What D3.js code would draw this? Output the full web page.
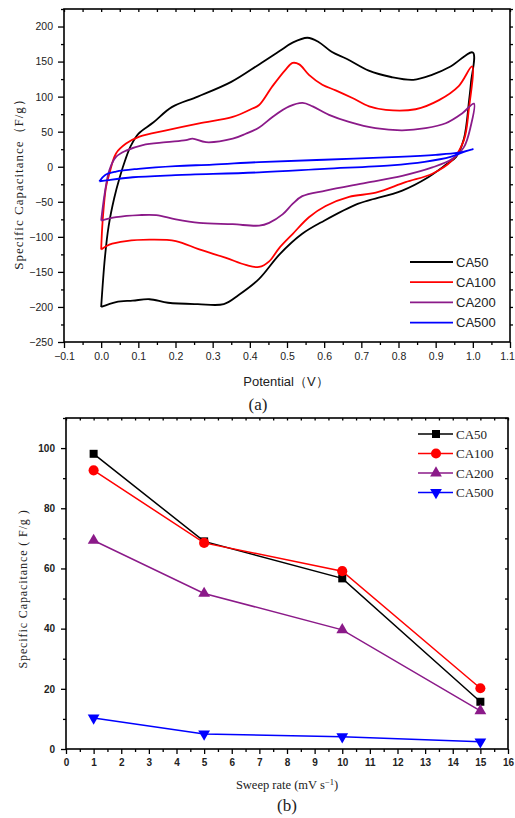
<!DOCTYPE html>
<html>
<head>
<meta charset="utf-8">
<script src="https://cdn.jsdelivr.net/npm/d3@7"></script>
<style>
  body { margin: 0; background: #fff; }
  svg text { fill: #222; }
</style>
</head>
<body>
<svg id="fig" width="515" height="818"></svg>
<script>
// ---- data: (a) CV loops, [potential V, capacitance F/g]
const seriesNames = ['CA50', 'CA100', 'CA200', 'CA500'];
const seriesColors = ['#000000', '#ff0000', '#8b1a89', '#0000ff'];

const ca50Loop = [[0.0,-200],[0.01,-130],[0.02,-85],[0.035,-45],[0.05,-15],[0.065,10],[0.08,30],[0.1,47],
  [0.14,63],[0.19,85],[0.26,100],[0.35,121],[0.425,146],[0.48,165],[0.515,177],[0.555,184],[0.585,178],
  [0.62,164],[0.66,154],[0.72,137],[0.78,128],[0.84,124],[0.89,131],[0.94,143],[1.0,163],
  [0.995,120],[0.99,95],[0.976,40],[0.955,14],[0.93,4],[0.88,-15],[0.81,-34],[0.72,-48],[0.69,-53],
  [0.6,-77],[0.54,-96],[0.48,-125],[0.425,-160],[0.37,-183],[0.33,-196],[0.26,-196],[0.18,-194],
  [0.13,-189],[0.085,-191],[0.04,-193],[0.0,-200]];

const ca100Loop = [[0.0,-118],[0.004,-77],[0.013,-29],[0.022,-10],[0.04,19],[0.067,33],[0.103,43],
  [0.175,52],[0.264,62],[0.354,71],[0.407,83],[0.425,88],[0.461,115],[0.497,139],[0.515,148],[0.533,146],
  [0.559,131],[0.595,117],[0.631,109],[0.676,98],[0.721,86],[0.766,81],[0.846,82],[0.909,95],[0.962,115],
  [0.998,143],[0.989,81],[0.976,38],[0.944,9],[0.891,-10],[0.819,-22],[0.739,-37],[0.667,-43],[0.604,-56],
  [0.559,-72],[0.515,-96],[0.479,-116],[0.452,-135],[0.425,-143],[0.389,-140],[0.336,-130],[0.264,-118],
  [0.201,-106],[0.13,-104],[0.067,-106],[0.022,-111],[0.0,-118]];

const ca200Loop = [[0.0,-77],[0.009,-40],[0.022,-5],[0.04,14],[0.067,23],[0.112,31],[0.175,35],[0.228,38],
  [0.246,40],[0.282,35],[0.354,40],[0.389,47],[0.425,56],[0.461,71],[0.506,86],[0.542,91],[0.569,86],
  [0.613,74],[0.667,64],[0.738,55],[0.81,52],[0.873,55],[0.927,62],[0.971,76],[1.003,90],
  [0.994,57],[0.976,28],[0.944,11],[0.891,-1],[0.81,-13],[0.712,-23],[0.604,-34],[0.541,-42],[0.515,-53],
  [0.488,-68],[0.452,-80],[0.425,-84],[0.354,-82],[0.264,-80],[0.201,-75],[0.148,-69],[0.103,-69],
  [0.04,-72],[0.0,-77]];

const ca500Loop = [[-0.005,-21],[0.01,-12],[0.04,-7],[0.1,-3],[0.2,1],[0.3,3],[0.425,6.6],[0.6,10],
  [0.8,14],[0.9,17],[0.96,20],[1.0,25],[0.98,22],[0.94,14],[0.87,7],[0.78,2],[0.6,-3],[0.425,-8],
  [0.2,-12],[0.085,-15],[0.02,-19],[-0.005,-21]];

// ---- data: (b) capacitance vs sweep rate
const sweepRates = [1, 5, 10, 15];
const ca50Cap = [98.1, 69.0, 56.7, 15.7];
const ca100Cap = [92.6, 68.5, 59.1, 20.2];
const ca200Cap = [69.3, 51.7, 39.6, 12.7];
const ca500Cap = [10.3, 5.0, 4.1, 2.4];

const cvTicksX = d3.range(-0.1, 1.1001, 0.1);
const cvTicksY = d3.range(-250, 201, 50);
const rateTicksX = d3.range(0, 17, 1);
const rateTicksY = [0, 20, 40, 60, 80, 100];

const svg = d3.select('#fig');
const sans = 'Liberation Sans, Arial, sans-serif';
const serif = 'Liberation Serif, Times New Roman, serif';

// =============== (a) ===============
const a = {left: 64, right: 510, top: 9, bottom: 342};
const xA = d3.scaleLinear([-0.1, 1.1], [a.left, a.right]);
const yA = d3.scaleLinear([-250, 225], [a.bottom, a.top]);

const gA = svg.append('g');
const fmt1 = d3.format('.1f');

// axes
const xAxisA = gA.append('g').attr('transform', `translate(0,${a.bottom})`)
  .call(d3.axisBottom(xA).tickValues(cvTicksX).tickFormat(fmt1).tickSizeInner(6).tickSizeOuter(0).tickPadding(5));
gA.append('g').attr('transform', `translate(0,${a.bottom})`)
  .call(d3.axisBottom(xA).tickValues(d3.range(-0.05, 1.1, 0.1)).tickFormat('').tickSize(3).tickSizeOuter(0));
gA.append('g').attr('transform', `translate(${a.left},0)`)
  .call(d3.axisLeft(yA).tickValues(cvTicksY).tickSizeInner(6).tickSizeOuter(0).tickPadding(5));
gA.append('g').attr('transform', `translate(${a.left},0)`)
  .call(d3.axisLeft(yA).tickValues(d3.range(-225, 226, 50)).tickFormat('').tickSize(3).tickSizeOuter(0));
gA.append('g').attr('transform', `translate(${a.right},0)`)
  .call(d3.axisRight(yA).tickValues(d3.range(-225, 226, 25)).tickFormat('').tickSize(3).tickSizeOuter(0));
gA.append('g').attr('transform', `translate(0,${a.top})`)
  .call(d3.axisBottom(xA).tickValues(d3.range(-0.1, 1.1001, 0.05)).tickFormat('').tickSize(3).tickSizeOuter(0));
gA.append('rect').attr('x', a.left).attr('y', a.top)
  .attr('width', a.right - a.left).attr('height', a.bottom - a.top)
  .attr('fill', 'none').attr('stroke', '#000').attr('stroke-width', 1.6);
gA.selectAll('.domain').remove();
gA.selectAll('.tick line').attr('stroke', '#000').attr('stroke-width', 1.3);
gA.selectAll('.tick text').style('font-family', sans).style('font-size', '10.5px').attr('fill', '#333');
// last label sits against the page edge
xAxisA.selectAll('.tick text').filter((d, i, n) => i === n.length - 1).attr('dx', -3);

// curves
const lineA = d3.line().x(d => xA(d[0])).y(d => yA(d[1])).curve(d3.curveCatmullRom.alpha(0.5));
const loops = [ca50Loop, ca100Loop, ca200Loop, ca500Loop];
gA.append('g').selectAll('path').data(loops).join('path')
  .attr('d', lineA).attr('fill', 'none')
  .attr('stroke', (d, i) => seriesColors[i]).attr('stroke-width', 1.8);

// legend
const legA = gA.append('g');
seriesNames.forEach((name, i) => {
  const yy = 262 + i * 20.2;
  legA.append('line').attr('x1', 410).attr('x2', 453).attr('y1', yy).attr('y2', yy)
    .attr('stroke', seriesColors[i]).attr('stroke-width', 1.8);
  legA.append('text').attr('x', 456).attr('y', yy + 4.5).text(name)
    .style('font-family', sans).style('font-size', '13px');
});

// labels
gA.append('text').attr('x', 286).attr('y', 386).attr('text-anchor', 'middle')
  .style('font-family', sans).style('font-size', '13px').text('Potential（V）');
gA.append('text').attr('x', 258).attr('y', 410).attr('text-anchor', 'middle')
  .style('font-family', serif).style('font-size', '17px').text('(a)');
gA.append('text').attr('transform', 'translate(23,181) rotate(-90)').attr('text-anchor', 'middle')
  .style('font-family', serif).style('font-size', '13px').style('letter-spacing', '1px')
  .text('Specific Capacitance（F/g）');

// =============== (b) ===============
const b = {left: 66, right: 508, top: 418, bottom: 749};
const xB = d3.scaleLinear([0, 16], [b.left, b.right]);
const yB = d3.scaleLinear([0, 110], [b.bottom, b.top]);
const gB = svg.append('g');

gB.append('g').attr('transform', `translate(0,${b.bottom})`)
  .call(d3.axisBottom(xB).tickValues(rateTicksX).tickSizeInner(5).tickSizeOuter(0).tickPadding(5));
gB.append('g').attr('transform', `translate(0,${b.bottom})`)
  .call(d3.axisBottom(xB).tickValues(d3.range(0.5, 16, 1)).tickFormat('').tickSize(3).tickSizeOuter(0));
gB.append('g').attr('transform', `translate(${b.left},0)`)
  .call(d3.axisLeft(yB).tickValues(rateTicksY).tickSizeInner(5).tickSizeOuter(0).tickPadding(6));
gB.append('g').attr('transform', `translate(${b.left},0)`)
  .call(d3.axisLeft(yB).tickValues(d3.range(10, 111, 20)).tickFormat('').tickSize(3).tickSizeOuter(0));
gB.append('g').attr('transform', `translate(${b.right},0)`)
  .call(d3.axisLeft(yB).tickValues(d3.range(10, 111, 10)).tickFormat('').tickSize(3).tickSizeOuter(0));
gB.append('g').attr('transform', `translate(0,${b.top})`)
  .call(d3.axisBottom(xB).tickValues(d3.range(0, 16.01, 0.5)).tickFormat('').tickSize(2.5).tickSizeOuter(0));
gB.append('rect').attr('x', b.left).attr('y', b.top)
  .attr('width', b.right - b.left).attr('height', b.bottom - b.top)
  .attr('fill', 'none').attr('stroke', '#000').attr('stroke-width', 1.6);
gB.selectAll('.domain').remove();
gB.selectAll('.tick line').attr('stroke', '#000').attr('stroke-width', 1.3);
gB.selectAll('.tick text').style('font-family', sans).style('font-size', '10px')
  .style('font-weight', 'bold').attr('fill', '#111');

const capSeries = [ca50Cap, ca100Cap, ca200Cap, ca500Cap];
const symbols = [d3.symbolSquare, d3.symbolCircle, d3.symbolTriangle, d3.symbolTriangle];
const symSizes = [64, 80, 60, 60];
const lineB = d3.line().x((d, i) => xB(sweepRates[i])).y(d => yB(d));

capSeries.forEach((vals, k) => {
  gB.append('path').attr('d', lineB(vals)).attr('fill', 'none')
    .attr('stroke', seriesColors[k]).attr('stroke-width', 1.5);
  gB.append('g').selectAll('path').data(vals).join('path')
    .attr('transform', (d, i) => `translate(${xB(sweepRates[i])},${yB(d)})${k === 3 ? ' rotate(180)' : ''}`)
    .attr('d', d3.symbol(symbols[k], symSizes[k]))
    .attr('fill', seriesColors[k]);
});

// legend (b)
const legB = gB.append('g');
seriesNames.forEach((name, i) => {
  const yy = 434 + i * 19.5;
  legB.append('line').attr('x1', 418).attr('x2', 453).attr('y1', yy).attr('y2', yy)
    .attr('stroke', seriesColors[i]).attr('stroke-width', 1.6);
  legB.append('path').attr('transform', `translate(436,${yy})${i === 3 ? ' rotate(180)' : ''}`)
    .attr('d', d3.symbol(symbols[i], symSizes[i])).attr('fill', seriesColors[i]);
  legB.append('text').attr('x', 456).attr('y', yy + 4.5).text(name)
    .style('font-family', serif).style('font-size', '13px');
});

// labels (b)
const xl = gB.append('text').attr('x', 287).attr('y', 789).attr('text-anchor', 'middle')
  .style('font-family', serif).style('font-size', '12.5px');
xl.append('tspan').text('Sweep rate (mV s');
xl.append('tspan').attr('dy', -4).style('font-size', '8.5px').text('−1');
xl.append('tspan').attr('dy', 4).text(')');
gB.append('text').attr('x', 287).attr('y', 811).attr('text-anchor', 'middle')
  .style('font-family', serif).style('font-size', '17px').text('(b)');
gB.append('text').attr('transform', 'translate(27,589) rotate(-90)').attr('text-anchor', 'middle')
  .style('font-family', serif).style('font-size', '12px').style('letter-spacing', '0.9px')
  .text('Specific Capacitance ( F/g )');
</script>
</body>
</html>
